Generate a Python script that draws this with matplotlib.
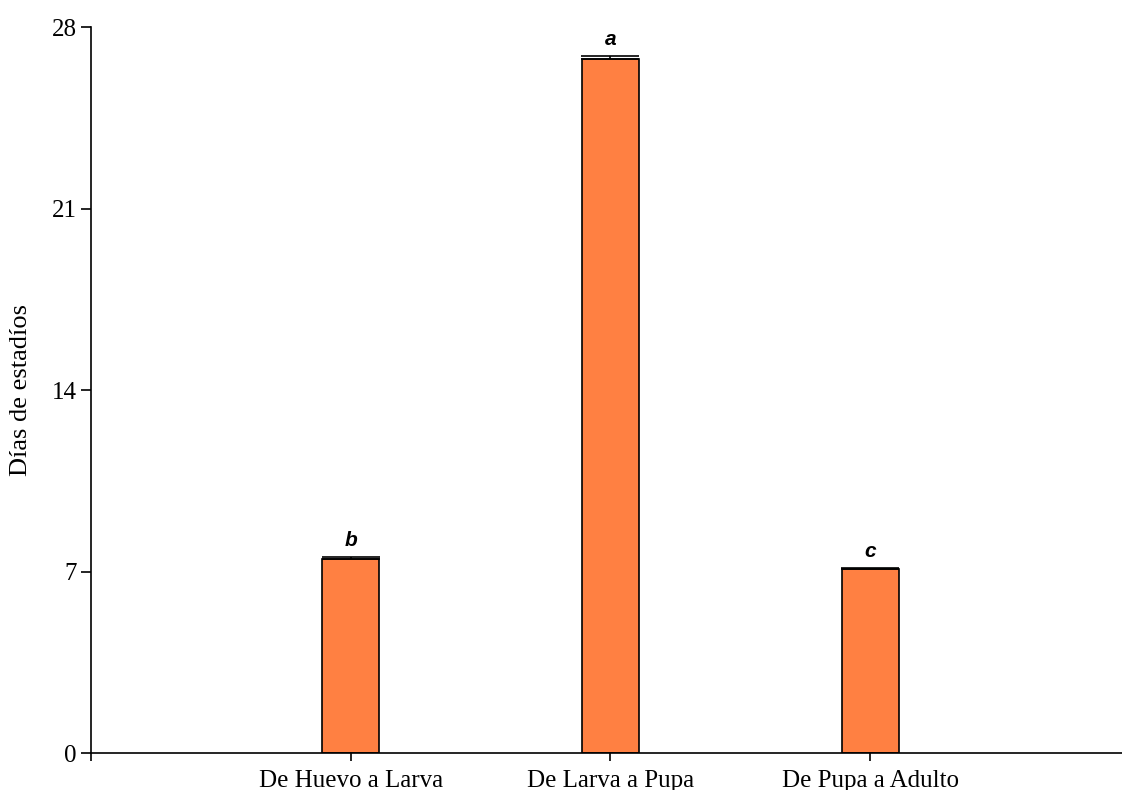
import numpy as np
import matplotlib.pyplot as plt

etapas = ["De Huevo a Larva", "De Larva a Pupa", "De Pupa a Adulto"]
dias = [7.48, 26.76, 7.10]
error = [0.08, 0.12, 0.03]
letras = ["b", "a", "c"]

plt.rcParams['font.family'] = ['Liberation Serif', 'DejaVu Serif']

fig = plt.figure(figsize=(11.22, 7.90), dpi=100)
ax = fig.add_axes([0.0811, 0.0468, 0.9189, 0.919])

x = np.arange(1, len(etapas) + 1)
ax.bar(x, dias, width=0.22, color='#FF8042', edgecolor='black', linewidth=1.2, zorder=2)
ax.errorbar(x, dias, yerr=[np.zeros(len(error)), error], fmt='none', ecolor='black',
            elinewidth=1.2, capsize=21, capthick=1.2, zorder=3)

for xi, yi, ei, letra in zip(x, dias, error, letras):
    ax.annotate(letra, (xi, yi + ei), xytext=(0, 5), textcoords='offset points',
                ha='center', va='bottom', fontsize=15, fontweight='bold', style='italic',
                family='Liberation Sans')

ax.set_xlim(0, 3.97)
ax.set_ylim(0, 28)
ax.set_yticks([0, 7, 14, 21, 28])
ax.set_xticks([0] + list(x))
ax.set_xticklabels([''] + etapas)
ax.tick_params(axis='both', direction='out', length=7, width=1.2, labelsize=18, colors='black')
ax.tick_params(axis='x', length=6, pad=6)
ax.set_ylabel('Días de estadíos', fontsize=19, labelpad=14)

for lado in ['top', 'right']:
    ax.spines[lado].set_visible(False)
for lado in ['left', 'bottom']:
    ax.spines[lado].set_linewidth(1.2)

fig.savefig('out.png', dpi=100)
